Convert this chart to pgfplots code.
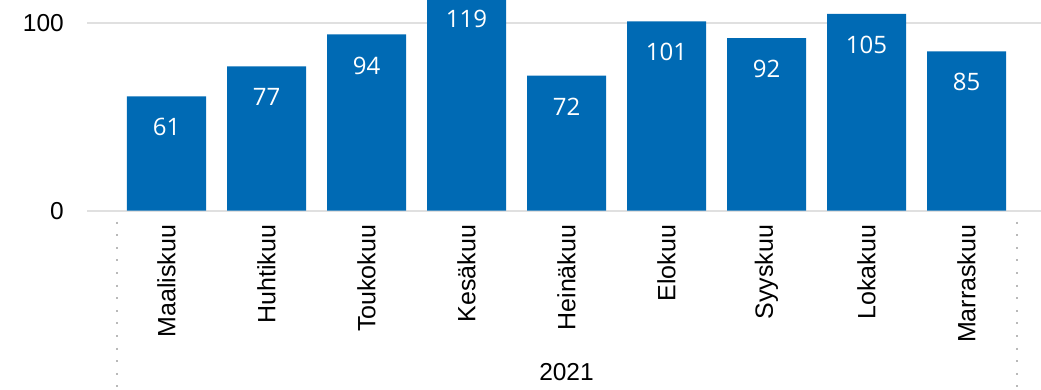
\documentclass[border=0pt]{standalone}
\usepackage{pgfplots}
\pgfplotsset{compat=1.18}
\usepackage{fontspec}
\setmainfont{Liberation Sans}
\newfontfamily\labelfont{Open Sans}
\definecolor{barblue}{RGB}{0,106,180}
\definecolor{gridgray}{RGB}{224,224,224}
\definecolor{sepgray}{RGB}{185,185,185}

\begin{document}
\begin{tikzpicture}
% axis goes a little higher than the page: the page edge crops the tallest bar
\begin{axis}[
  name=ax,
  scale only axis,
  x=100pt, y=1.874pt,
  xmin=-0.795, xmax=8.745,
  ymin=0, ymax=125,
  axis line style={draw=none},
  major tick length=0pt,
  tick style={draw=none},
  ytick={0,100},
  xtick=data,
  xticklabels={Maaliskuu,Huhtikuu,Toukokuu,Kesäkuu,Heinäkuu,Elokuu,Syyskuu,Lokakuu,Marraskuu},
  ymajorgrids,
  grid style={gridgray, line width=1.8pt},
  /pgf/number format/assume math mode=true,
  ticklabel style={font=\fontsize{24.5}{28}\selectfont},
  yticklabel style={anchor=east, inner sep=0pt, xshift=-23pt},
  xticklabel style={yshift=-14pt, rotate=90, anchor=east, inner sep=0pt,
    font=\fontsize{25}{28}\selectfont},
  nodes near coords,
  point meta=y,
  every node near coord/.append style={anchor=center, yshift=-31pt,
    font=\labelfont\fontsize{24}{28}\selectfont, text=white},
]
\addplot[ybar, bar width=79pt, fill=barblue, draw=none] coordinates {
  (0,61) (1,77) (2,94) (3,119) (4,72) (5,101) (6,92) (7,105) (8,85)
};
\coordinate (s1) at (axis cs:-0.5,0);
\coordinate (s2) at (axis cs:8.5,0);
\coordinate (yr) at (axis cs:4,0);
\coordinate (tr) at (axis cs:8.745,112.4);
\end{axis}
\draw[sepgray, line width=2pt, dash pattern=on 2pt off 10.6pt]
  ([yshift=-11pt]s1) -- ([yshift=-179pt]s1);
\draw[sepgray, line width=2pt, dash pattern=on 2pt off 10.6pt]
  ([yshift=-11pt]s2) -- ([yshift=-179pt]s2);
\node[font=\fontsize{24.5}{28}\selectfont, anchor=center] at ([yshift=-161pt]yr) {2021};
\pgfresetboundingbox
\path ([shift={(-87pt,-179pt)}]ax.south west) rectangle (tr);
\end{tikzpicture}
\end{document}
